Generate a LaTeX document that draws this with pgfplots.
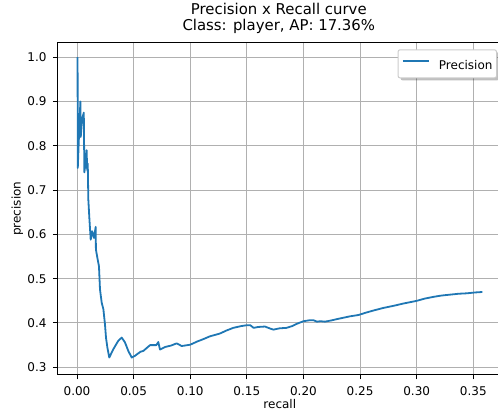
\documentclass[border=0pt]{standalone}
\usepackage{fontspec}
\setmainfont{DejaVu Sans}
\usepackage{pgfplots}
\pgfplotsset{compat=1.18}
\usetikzlibrary{shadows}
\definecolor{tabblue}{HTML}{1F77B4}
\definecolor{gridgray}{HTML}{B0B0B0}
\begin{document}
\begin{tikzpicture}[x=1pt,y=1pt]
\useasboundingbox (0,0) rectangle (498,419);
\begin{axis}[
  at={(57.3pt,44pt)}, anchor=south west,
  scale only axis, width=445pt, height=332.4pt,
  xmin=-0.0174, xmax=0.3756, ymin=0.2826, ymax=1.033,
  xtick={0,0.05,0.1,0.15,0.2,0.25,0.3,0.35},
  xticklabels={0.00,0.05,0.10,0.15,0.20,0.25,0.30,0.35},
  ytick={0.3,0.4,0.5,0.6,0.7,0.8,0.9,1.0},
  yticklabels={0.3,0.4,0.5,0.6,0.7,0.8,0.9,1.0},
  tick pos=left, tick align=outside, major tick length=4.4pt,
  every tick/.style={black, line width=1pt},
  axis line style={black, line width=1pt},
  grid=major, major grid style={gridgray, line width=1pt},
  ticklabel style={font=\fontsize{12}{14}\selectfont, inner sep=0pt},
  xticklabel style={anchor=north, yshift=-6.6pt},
  yticklabel style={anchor=east, xshift=-6.2pt},
  xlabel={recall}, ylabel={precision},
  label style={font=\fontsize{12}{14}\selectfont, inner sep=0pt},
  xlabel style={at={(axis description cs:0.5,0)}, anchor=base, yshift=-33.3pt},
  ylabel style={at={(axis description cs:-0.08225,0.5)}, anchor=base, rotate=0},
  title={Precision x Recall curve\\Class: player, AP: 17.36\%},
  title style={font=\fontsize{14.9}{15.3}\selectfont, align=center, inner sep=0pt,
    at={(axis description cs:0.5,1)}, anchor=south, yshift=3.1pt, xshift=-1pt},
  legend style={at={(axis description cs:0.9881,0.9798)}, anchor=north east,
    draw=black!20, fill=white, rounded corners=2pt, line width=1pt,
    inner xsep=4pt, inner ysep=7pt, column sep=0pt,
    drop shadow={shadow xshift=2.5pt, shadow yshift=-2.5pt, fill=black, opacity=0.25},
    nodes={inner sep=0pt, font=\fontsize{12}{14}\selectfont}},
  legend image code/.code={
    \pgfpathmoveto{\pgfpoint{0pt}{0pt}}\pgfpathlineto{\pgfpoint{36pt}{8.75pt}}\pgfusepath{}
    \pgfsetlinewidth{1.8pt}\pgfsetstrokecolor{tabblue}\pgfsetbuttcap
    \pgfpathmoveto{\pgfpoint{0pt}{4.4pt}}\pgfpathlineto{\pgfpoint{25.7pt}{4.4pt}}\pgfusepath{stroke}},
]
\addplot[tabblue, line width=1.8pt, line join=round] coordinates {
(0.0005,1.000) (0.0007,0.750) (0.0020,0.840) (0.0030,0.900) (0.0033,0.820)
(0.0045,0.860) (0.0060,0.875) (0.0065,0.740) (0.0075,0.760) (0.0085,0.790)
(0.0090,0.745) (0.0095,0.760) (0.0100,0.679) (0.0110,0.633) (0.0121,0.588)
(0.0134,0.607) (0.0150,0.592) (0.0165,0.617) (0.0167,0.566) (0.0180,0.547)
(0.0194,0.528) (0.0203,0.476) (0.0218,0.446) (0.0233,0.431) (0.0247,0.397)
(0.0256,0.367) (0.0268,0.345) (0.0285,0.322) (0.0321,0.341) (0.0365,0.360)
(0.0395,0.367) (0.0424,0.356) (0.0453,0.337) (0.0483,0.322) (0.0512,0.326)
(0.0560,0.335) (0.0586,0.337) (0.0645,0.350) (0.0700,0.350) (0.0718,0.357)
(0.0733,0.340) (0.0780,0.346) (0.0830,0.349) (0.0880,0.354) (0.0925,0.348)
(0.1000,0.351) (0.1060,0.358) (0.1120,0.364) (0.1175,0.370) (0.1260,0.376)
(0.1320,0.383) (0.1380,0.389) (0.1450,0.393) (0.1500,0.395) (0.1530,0.395)
(0.1560,0.389) (0.1600,0.391) (0.1660,0.392) (0.1700,0.388) (0.1734,0.385)
(0.1790,0.388) (0.1850,0.389) (0.1900,0.393) (0.1940,0.398) (0.2000,0.404)
(0.2050,0.406) (0.2090,0.406) (0.2120,0.403) (0.2150,0.404) (0.2190,0.403)
(0.2250,0.406) (0.2300,0.409) (0.2410,0.415) (0.2485,0.418) (0.2560,0.424)
(0.2630,0.429) (0.2706,0.434) (0.2800,0.439) (0.2883,0.444) (0.3000,0.450)
(0.3070,0.455) (0.3148,0.459) (0.3220,0.462) (0.3295,0.464) (0.3370,0.466)
(0.3442,0.467) (0.3520,0.469) (0.3580,0.470)
};
\addlegendentry{Precision\hspace{3pt}}
\end{axis}
\end{tikzpicture}
\end{document}
